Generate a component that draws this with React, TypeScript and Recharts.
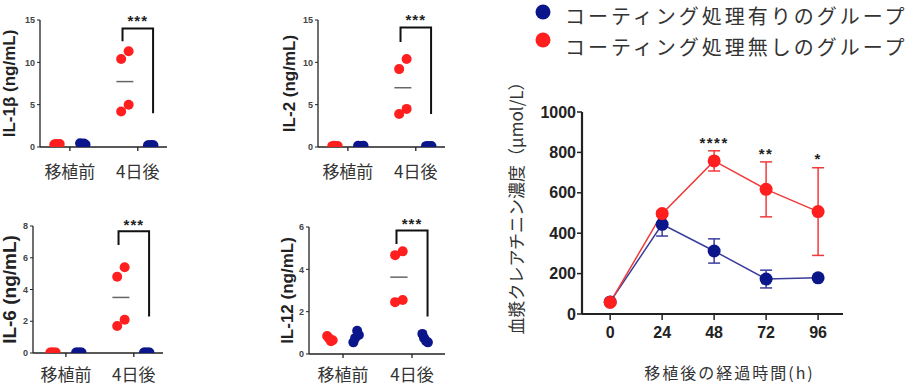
// Cytokine scatter panels + plasma creatinine time course
import React from 'react';
import {
  ScatterChart,
  Scatter,
  XAxis,
  YAxis,
  ReferenceDot,
  ComposedChart,
  Line,
  ErrorBar,
  Legend,
} from 'recharts';

const RED = '#ff1f1f';
const BLUE = '#0b168a';
const RED_LINE = '#f03a3a';
const BLUE_LINE = '#3a3d9c';
const AXIS = '#222';
const JP = '"Noto Sans CJK JP", "Noto Sans", sans-serif';
const SANS = '"Liberation Sans", Arial, sans-serif';

const groups = ['移植前', '4日後'];

// cytokines, [移植前, 4日後], 4 animals per group
const il1bRed = [[0.3, 0.35, 0.3, 0.35], [11.3, 10.4, 5.0, 4.2]];
const il1bBlue = [[0.45, 0.35, 0.4, 0.3], [0.2, 0.2, 0.25, 0.2]];
const il2Red = [[0.1, 0.15, 0.1, 0.12], [10.4, 9.2, 4.5, 3.9]];
const il2Blue = [[0.15, 0.1, 0.12, 0.15], [0.1, 0.12, 0.1, 0.12]];
const il6Red = [[0.03, 0.03, 0.03, 0.03], [5.4, 4.8, 2.1, 1.7]];
const il6Blue = [[0.03, 0.03, 0.03, 0.03], [0.03, 0.03, 0.03, 0.03]];
const il12Red = [[0.85, 0.75, 0.6, 0.65], [4.85, 4.67, 2.55, 2.45]];
const il12Blue = [[0.55, 0.75, 1.1, 0.9], [0.95, 0.75, 0.6, 0.55]];

// significance bracket: [left foot, top, right foot]
const il1bBracket = [12.5, 14.0, 4.0];
const il2Bracket = [12.4, 14.1, 3.9];
const il6Bracket = [6.8, 7.67, 2.3];
const il12Bracket = [5.2, 5.84, 1.77];
const il1bStar = 15.35;
const il2Star = 15.4;
const il6Star = 8.27;
const il12Star = 6.3;

// plasma creatinine (µmol/L), mean ± SEM
const hours = [0, 24, 48, 72, 96];
const coatedMean = [60, 444, 312, 173, 179];
const coatedSem = [10, 58, 60, 44, 8];
const uncoatedMean = [58, 497, 758, 617, 507];
const uncoatedSem = [10, 12, 50, 136, 217];
const starHours = [48, 72, 96];
const starMarks = ['****', '**', '*'];
const starLevels = [866, 808, 784];

const COATED = 'コーティング処理有りのグループ';
const UNCOATED = 'コーティング処理無しのグループ';
const legendDot: Record<string, string> = { [COATED]: BLUE, [UNCOATED]: RED };

const SIDE = 0.19;
const preJitter = [-0.04, -0.015, 0.015, 0.04];
const postJitter = [0.055, -0.055, 0.055, -0.055];

const lineData = hours.map((h, i) => ({
  h,
  coated: coatedMean[i],
  coatedErr: coatedSem[i],
  uncoated: uncoatedMean[i],
  uncoatedErr: uncoatedSem[i],
}));

const toPoints = (vals: number[][], side: number, jit: number[][]) =>
  vals.flatMap((g, gi) => g.map((v, i) => ({ x: gi + 1 + side + jit[gi][i], y: v })));

// mean bar of the uncoated group after 4 days (the others sit under their dots)
const meanSegment = (vals: number[]) => {
  const m = vals.reduce((a, b) => a + b, 0) / vals.length;
  const c = 2 - SIDE;
  return [
    { x: c - 0.125, y: m },
    { x: c + 0.125, y: m },
  ];
};

const bracketPoints = (b: number[]) => [
  { x: 2 - 0.225, y: b[0] },
  { x: 2 - 0.225, y: b[1] },
  { x: 2 + 0.225, y: b[1] },
  { x: 2 + 0.225, y: b[2] },
];

const noShape = () => <g />;

type Panel = {
  title: string;
  red: number[][];
  blue: number[][];
  bracket: number[];
  star: number;
  yMax: number;
  yTicks: number[];
  xDomain: [number, number];
  left: number;
  top: number;
  margin: { top: number; right: number; bottom: number; left: number };
  titleSize: number;
  titleDx: number;
  catMargin: number;
};

const panels: Panel[] = [
  {
    title: 'IL-1β (ng/mL)', red: il1bRed, blue: il1bBlue, bracket: il1bBracket, star: il1bStar,
    yMax: 15, yTicks: [0, 5, 10, 15], xDomain: [0.56, 2.43], left: 0, top: 0,
    margin: { top: 20, right: 23, bottom: 43, left: 40 }, titleSize: 17, titleDx: -31, catMargin: 15,
  },
  {
    title: 'IL-2 (ng/mL)', red: il2Red, blue: il2Blue, bracket: il2Bracket, star: il2Star,
    yMax: 15, yTicks: [0, 5, 10, 15], xDomain: [0.56, 2.43], left: 270, top: 0,
    margin: { top: 20, right: 15, bottom: 43, left: 48 }, titleSize: 17, titleDx: -29, catMargin: 15,
  },
  {
    title: 'IL-6 (ng/mL)', red: il6Red, blue: il6Blue, bracket: il6Bracket, star: il6Star,
    yMax: 8, yTicks: [0, 2, 4, 6, 8], xDomain: [0.515, 2.43], left: 0, top: 195,
    margin: { top: 31, right: 27, bottom: 32, left: 33 }, titleSize: 19, titleDx: -24, catMargin: 12,
  },
  {
    title: 'IL-12 (ng/mL)', red: il12Red, blue: il12Blue, bracket: il12Bracket, star: il12Star,
    yMax: 6, yTicks: [0, 2, 4, 6], xDomain: [0.507, 2.478], left: 270, top: 195,
    margin: { top: 32, right: 15, bottom: 31, left: 39 }, titleSize: 17, titleDx: -22, catMargin: 11,
  },
];

function CytokinePanel({ p }: { p: Panel }) {
  return (
    <div style={{ position: 'absolute', left: p.left, top: p.top }}>
      <ScatterChart
        width={190}
        height={190}
        margin={{ top: p.margin.top, right: p.margin.right, bottom: 0, left: 0 }}
      >
        <XAxis
          type="number"
          dataKey="x"
          domain={p.xDomain}
          ticks={[1, 2]}
          interval={0}
          allowDataOverflow
          height={p.margin.bottom}
          tickSize={4}
          tickMargin={p.catMargin}
          tickFormatter={(v: number) => groups[v - 1]}
          axisLine={{ stroke: AXIS, strokeWidth: 1.3 }}
          tickLine={{ stroke: AXIS, strokeWidth: 1.3 }}
          tick={{ fontSize: 17, fill: '#333', fontFamily: JP }}
        />
        <YAxis
          type="number"
          dataKey="y"
          domain={[0, p.yMax]}
          ticks={p.yTicks}
          interval={0}
          allowDataOverflow
          width={p.margin.left}
          tickSize={3}
          tickMargin={2}
          axisLine={{ stroke: AXIS, strokeWidth: 1.3 }}
          tickLine={{ stroke: AXIS, strokeWidth: 1 }}
          tick={{ fontSize: 9, fontWeight: 700, fill: '#444', fontFamily: SANS }}
          label={({ viewBox }: any) => {
            const x = viewBox.x + viewBox.width + p.titleDx;
            const y = viewBox.y + viewBox.height / 2;
            return (
              <text
                x={x}
                y={y}
                transform={`rotate(-90 ${x} ${y})`}
                textAnchor="middle"
                dominantBaseline="central"
                fontSize={p.titleSize}
                fontWeight={700}
                fill="#222"
                fontFamily={SANS}
              >
                {p.title}
              </text>
            );
          }}
        />
        <Scatter
          data={meanSegment(p.red[1])}
          line={{ stroke: '#666', strokeWidth: 1.5 }}
          shape={noShape}
          isAnimationActive={false}
        />
        <Scatter
          data={toPoints(p.red, -SIDE, [preJitter, postJitter])}
          shape={(s: any) => <circle cx={s.cx} cy={s.cy} r={5} fill={RED} />}
          isAnimationActive={false}
        />
        <Scatter
          data={toPoints(p.blue, SIDE, [preJitter, preJitter])}
          shape={(s: any) => <circle cx={s.cx} cy={s.cy} r={5} fill={BLUE} />}
          isAnimationActive={false}
        />
        <Scatter
          data={bracketPoints(p.bracket)}
          line={{ stroke: '#111', strokeWidth: 2 }}
          shape={noShape}
          isAnimationActive={false}
        />
        <ReferenceDot
          x={2}
          y={p.star}
          ifOverflow="visible"
          shape={(s: any) => (
            <text
              x={s.cx}
              y={s.cy}
              dy="0.58em"
              textAnchor="middle"
              fontSize={15}
              fontWeight={700}
              letterSpacing={1}
              fill="#222"
              fontFamily={SANS}
            >
              ***
            </text>
          )}
        />
      </ScatterChart>
    </div>
  );
}

function renderLegend(props: any) {
  const items = props.payload || [];
  return (
    <svg width={415} height={62}>
      {items.map((it: any, i: number) => (
        <g key={it.value}>
          <circle cx={43} cy={12 + i * 28} r={7.5} fill={legendDot[it.value]} />
          <text
            x={65}
            y={15 + i * 31}
            dominantBaseline="central"
            fontSize={20}
            letterSpacing={3}
            fill="#333"
            fontFamily={JP}
          >
            {it.value}
          </text>
        </g>
      ))}
    </svg>
  );
}

function CreatinineChart() {
  return (
    <div style={{ position: 'absolute', left: 500, top: 0 }}>
      <ComposedChart
        width={415}
        height={385}
        data={lineData}
        margin={{ top: 112, right: 72, bottom: 0, left: 0 }}
      >
        <XAxis
          type="number"
          dataKey="h"
          domain={[-13, 107.5]}
          ticks={hours}
          interval={0}
          allowDataOverflow
          height={71}
          tickSize={6}
          tickMargin={7}
          axisLine={{ stroke: AXIS, strokeWidth: 2.2 }}
          tickLine={{ stroke: AXIS, strokeWidth: 1.5 }}
          tick={{ fontSize: 16, fontWeight: 700, fill: '#222', fontFamily: SANS }}
          label={({ viewBox }: any) => (
            <text
              x={viewBox.x + viewBox.width / 2 + 17}
              y={viewBox.y + 58}
              textAnchor="middle"
              dominantBaseline="central"
              fontSize={16}
              letterSpacing={2}
              fill="#333"
              fontFamily={JP}
            >
              移植後の経過時間(h)
            </text>
          )}
        />
        <YAxis
          type="number"
          domain={[0, 1000]}
          ticks={[0, 200, 400, 600, 800, 1000]}
          interval={0}
          allowDataOverflow
          width={82}
          tickSize={5}
          tickMargin={1}
          axisLine={{ stroke: AXIS, strokeWidth: 2.2 }}
          tickLine={{ stroke: AXIS, strokeWidth: 1.5 }}
          tick={{ fontSize: 16, fontWeight: 700, fill: '#222', fontFamily: SANS }}
          label={({ viewBox }: any) => {
            const x = viewBox.x + viewBox.width - 67;
            const y = viewBox.y + viewBox.height / 2 - 9;
            return (
              <text
                x={x}
                y={y}
                transform={`rotate(-90 ${x} ${y})`}
                textAnchor="middle"
                dominantBaseline="central"
                fontSize={17}
                fill="#333"
                fontFamily={JP}
              >
                血漿クレアチニン濃度（μmol/L）
              </text>
            );
          }}
        />
        <Legend
          layout="vertical"
          align="center"
          verticalAlign="middle"
          wrapperStyle={{ top: 0, left: 0, width: 415, height: 62 }}
          content={renderLegend}
        />
        <Line
          type="linear"
          dataKey="coated"
          name={COATED}
          stroke={BLUE_LINE}
          strokeWidth={1.5}
          dot={{ r: 6.5, fill: BLUE, stroke: BLUE, strokeWidth: 0 }}
          activeDot={false}
          isAnimationActive={false}
        >
          <ErrorBar dataKey="coatedErr" direction="y" width={6} stroke={BLUE_LINE} strokeWidth={1.5} />
        </Line>
        <Line
          type="linear"
          dataKey="uncoated"
          name={UNCOATED}
          stroke={RED_LINE}
          strokeWidth={1.5}
          dot={{ r: 6.5, fill: RED, stroke: RED, strokeWidth: 0 }}
          activeDot={false}
          isAnimationActive={false}
        >
          <ErrorBar dataKey="uncoatedErr" direction="y" width={6} stroke={RED_LINE} strokeWidth={1.5} />
        </Line>
        {starHours.map((h, i) => (
          <ReferenceDot
            key={h}
            x={h}
            y={starLevels[i]}
            ifOverflow="visible"
            shape={(s: any) => (
              <text
                x={s.cx}
                y={s.cy}
                dy="0.58em"
                textAnchor="middle"
                fontSize={15}
                fontWeight={700}
                letterSpacing={1.5}
                fill="#222"
                fontFamily={SANS}
              >
                {starMarks[i]}
              </text>
            )}
          />
        ))}
      </ComposedChart>
    </div>
  );
}

export default function App() {
  return (
    <div
      style={{
        position: 'absolute',
        left: 0,
        top: 0,
        width: 915,
        height: 385,
        background: '#fff',
        overflow: 'hidden',
      }}
    >
      {panels.map((p) => (
        <CytokinePanel key={p.title} p={p} />
      ))}
      <CreatinineChart />
    </div>
  );
}
